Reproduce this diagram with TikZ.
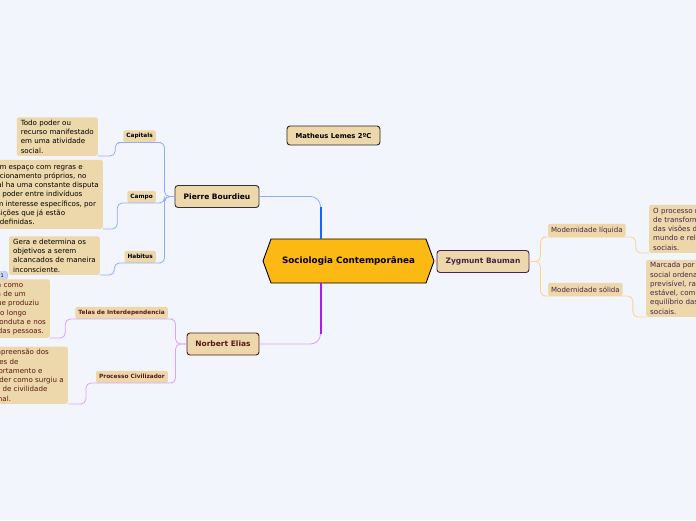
\documentclass[tikz,border=0pt]{standalone}
\usepackage{fontspec}
\setmainfont{DejaVu Sans}
\usetikzlibrary{shapes.symbols,positioning,calc}
\definecolor{bgcol}{RGB}{243,245,253}
\definecolor{tancol}{RGB}{236,216,170}
\definecolor{rootcol}{RGB}{253,185,19}
\definecolor{pblue}{RGB}{24,100,255}
\definecolor{pbluelt}{RGB}{145,172,255}
\definecolor{npurple}{RGB}{165,30,240}
\definecolor{npurplelt}{RGB}{220,160,255}
\definecolor{zorange}{RGB}{255,190,100}
\definecolor{zorangelt}{RGB}{255,210,140}
\definecolor{ntext}{RGB}{90,25,25}
\definecolor{ztext}{RGB}{70,35,75}
\definecolor{badgecol}{RGB}{200,213,245}
\tikzset{
  topic/.style={draw, fill=tancol, line width=0.9pt, rounded corners=3pt,
    minimum height=22pt, inner xsep=6pt, font=\fontsize{7.5}{9}\selectfont\bfseries},
  sublabel/.style={fill=tancol, rounded corners=1.5pt, inner xsep=3pt, inner ysep=0pt,
    minimum height=12pt, font=\fontsize{5.8}{7}\selectfont\bfseries},
  note/.style={fill=tancol, rounded corners=2pt, inner xsep=4pt, inner ysep=2.5pt,
    align=left, font=\fontsize{7.1}{9.3}\selectfont},
  branch/.style={line width=0.8pt, rounded corners=5pt},
}

\begin{document}
\begin{tikzpicture}[x=1pt,y=-1pt]
  \useasboundingbox (0,0) rectangle (696,520);
  \fill[bgcol] (0,0) rectangle (696,520);
  \clip (0,0) rectangle (696,520);

  % central topic and main topics
  \node[signal, signal to=west and east, signal pointer angle=140, draw,
    line width=0.9pt, fill=rootcol, minimum width=171pt, minimum height=44pt,
    font=\fontsize{8.8}{10}\selectfont\bfseries] (root) at (348.5,261)
    {Sociologia Contemporânea};
  \node[topic, draw=black!80, minimum width=84pt] (pb) at (217,196.5) {Pierre Bourdieu};
  \node[topic, draw=ntext, text=ntext, minimum width=72pt] (ne) at (223,344) {Norbert Elias};
  \node[topic, draw=ztext, text=ztext, minimum width=92pt] (zb) at (483,261.5) {Zygmunt Bauman};
  \node[topic, draw=black!85, minimum width=93pt, minimum height=19pt,
    font=\fontsize{6.8}{8}\selectfont\bfseries] (ml) at (333.5,135.5) {Matheus Lemes 2ºC};

  % Bourdieu
  \node[sublabel, anchor=south east] (cap) at (156,142.5) {Capitals};
  \node[sublabel, anchor=south east] (campo) at (156,203) {Campo};
  \node[sublabel, anchor=south east] (hab) at (156,263) {Habitus};
  \node[note, anchor=south east] (capt) at (98,156)
    {Todo poder ou\\recurso manifestado\\em uma atividade\\social.};
  \node[note, anchor=south east] (campt) at (103,229)
    {É um espaço com regras e\\funcionamento próprios, no\\qual ha uma constante disputa\\por poder entre indivíduos\\com interesse específicos, por\\posições que já estão\\predefinidas.};
  \node[note, anchor=south east] (habt) at (100,275)
    {Gera e determina os\\objetivos a serem\\alcancados de maneira\\inconsciente.};
  \node[draw=pbluelt, fill=badgecol, rounded corners=2pt, inner sep=0pt,
    minimum width=10pt, minimum height=8pt, font=\fontsize{5}{6}\selectfont,
    anchor=east] (badge) at (7.5,275.5) {1};

  % Elias
  \node[sublabel, text=ntext, anchor=south east] (telas) at (168,319) {Telas de Interdependencia};
  \node[sublabel, text=ntext, anchor=south east] (proc) at (168,383) {Processo Civilizador};
  \node[note, text=ntext, anchor=south east] (telt) at (50,338)
    {Funciona como\\uma teia de um\\grupo que produziu\\efeitos ao longo\\na sua conduta e nos\\hábitos das pessoas.};
  \node[note, text=ntext, anchor=south east] (proct) at (68,404)
    {A compreensão dos\\padrões de\\comportamento e\\entender como surgiu a\\noção de civilidade\\nacional.};

  % Bauman
  \node[sublabel, font=\fontsize{7}{8}\selectfont, text=ztext, minimum height=13pt,
    anchor=south west] (liq) at (548,237) {Modernidade líquida};
  \node[sublabel, font=\fontsize{7}{8}\selectfont, text=ztext, minimum height=13pt,
    anchor=south west] (sol) at (548,296) {Modernidade sólida};
  \node[note, text=ztext, anchor=south west] (liqt) at (649,253)
    {O processo rápido\\de transformação\\das visões do\\mundo e relações\\sociais.};
  \node[note, text=ztext, anchor=south west] (solt) at (646,317)
    {Marcada por uma vida\\social ordenada,\\previsível, racional,\\estável, com\\equilíbrio das relações\\sociais.};

  % main connectors
  \draw[pbluelt, line width=0.8pt, rounded corners=10pt] ([xshift=-28pt]root.north) |- (pb.east);
  \draw[pblue, line width=2pt] ([xshift=-28pt]root.north) -- ++(0,-32);
  \draw[npurplelt, line width=0.8pt, rounded corners=10pt] ([xshift=-28pt]root.south) |- (ne.east);
  \draw[npurple, line width=2pt] ([xshift=-28pt]root.south) -- ++(0,51);
  \draw[zorange, line width=1.5pt] (root.east) -- (zb.west);

  % sub connectors
  \draw[branch, pbluelt] (pb.west) -- ++(-10,0) |- (cap.south east) -- (cap.south west) -- ++(-8,0) |- (capt.south east);
  \draw[branch, pbluelt] (pb.west) -- ++(-10,0) |- (campo.south east) -- (campo.south west) -- ++(-10,0) |- (campt.south east);
  \draw[branch, pbluelt] (pb.west) -- ++(-10,0) |- (hab.south east) -- (hab.south west) -- ++(-10,0) |- (habt.south east);
  \draw[branch, npurplelt] (ne.west) -- ++(-11,0) |- (telas.south east) -- (telas.south west) -- ++(-10,0) |- (telt.south east);
  \draw[branch, npurplelt] (ne.west) -- ++(-11,0) |- (proc.south east) -- (proc.south west) -- ++(-10,0) |- (proct.south east);
  \draw[branch, zorangelt] (zb.east) -- ++(11,0) |- (liq.south west) -- (liq.south east) -- ++(10,0) |- (liqt.south west);
  \draw[branch, zorangelt] (zb.east) -- ++(11,0) |- (sol.south west) -- (sol.south east) -- ++(10,0) |- (solt.south west);
\end{tikzpicture}
\end{document}
